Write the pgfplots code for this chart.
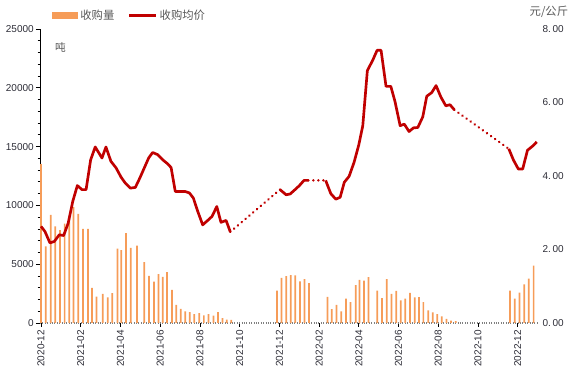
\documentclass[border=0pt]{standalone}
\usepackage{pgfplots}
\pgfplotsset{compat=1.18}
\usepackage{fontspec}
\setmainfont{Liberation Sans}
\newfontfamily\cjk{Noto Sans CJK SC}
\definecolor{barorange}{RGB}{246,156,88}
\definecolor{linered}{RGB}{192,0,0}
\definecolor{ticktext}{RGB}{45,45,55}
\definecolor{legtext}{RGB}{89,89,89}
\begin{document}
\begin{tikzpicture}
\begin{axis}[
  at={(0,0)}, anchor=south west,
  scale only axis, width=372.75pt, height=220.5pt,
  xmin=-0.05, xmax=24.97, ymin=0, ymax=25000,
  axis x line=bottom, axis y line=left,
  axis line style={-},
  x axis line style={gray, densely dotted, line width=0.8pt, -},
  y axis line style={black, line width=0.6pt, -},
  ybar, bar width=1.3pt,
  scaled y ticks=false, scaled x ticks=false,
  xtick={0,2,...,24},
  xticklabels={2020-12,2021-02,2021-04,2021-06,2021-08,2021-10,2021-12,2022-02,2022-04,2022-06,2022-08,2022-10,2022-12},
  ytick={0,5000,10000,15000,20000,25000},
  yticklabels={0,5000,10000,15000,20000,25000},
  minor y tick num=4,
  tick align=outside, major tick length=3pt, minor tick length=1.8pt,
  tick style={black, line width=0.6pt},
  /pgf/number format/assume math mode=true,
  xticklabel style={rotate=90, anchor=east, font=\fontsize{7.5}{8}\selectfont, text=ticktext, inner sep=2pt},
  yticklabel style={font=\fontsize{7.5}{8}\selectfont, text=ticktext, inner sep=1.5pt},
  clip=false,
]
\addplot[fill=barorange, draw=none] coordinates {
(0.00,13500) (0.24,6520) (0.49,9200) (0.72,8220) (0.96,7900) (1.19,8440) (1.42,8900) (1.64,9850) (1.88,9270) (2.12,8000) (2.37,8000) (2.57,2980) (2.80,2250) (3.11,2480) (3.36,2180) (3.59,2550) (3.85,6320) (4.04,6200) (4.28,7650) (4.52,6390) (4.83,6570) (5.20,5180) (5.44,4010) (5.69,3520) (5.92,4150) (6.13,3920) (6.34,4320) (6.59,2820) (6.81,1550) (7.03,1200) (7.26,990) (7.49,920) (7.72,760) (7.97,850) (8.20,650) (8.43,765) (8.68,620) (8.91,935) (9.14,425) (9.35,280) (9.58,260)
(11.88,2750) (12.11,3830) (12.35,3980) (12.57,4080) (12.80,4050) (13.04,3530) (13.26,3740) (13.49,3390)
(14.42,2220) (14.64,1190) (14.88,1540) (15.12,990) (15.35,2070) (15.58,1785) (15.84,3230) (16.03,3670) (16.26,3600) (16.49,3910) (16.93,2750) (17.17,2125) (17.41,3740) (17.64,2480) (17.88,2730) (18.11,1925) (18.34,2070) (18.58,2570) (18.81,2180) (19.03,2200) (19.25,1785) (19.49,1075) (19.72,905) (19.95,765) (20.18,570) (20.41,355) (20.64,200) (20.88,170)
(23.61,2750) (23.85,2080) (24.09,2580) (24.33,3290) (24.56,3770) (24.80,4875)
};
\node[font=\cjk\fontsize{8}{9}\selectfont, text=legtext] at (axis description cs:0.041,0.939) {吨};
\end{axis}
\begin{axis}[
  at={(0,0)}, anchor=south west,
  scale only axis, width=372.75pt, height=220.5pt,
  xmin=-0.05, xmax=24.97, ymin=0, ymax=8,
  axis y line=right, axis x line=none,
  y axis line style={draw=none},
  scaled y ticks=false,
  ytick={0,2,4,6,8},
  yticklabels={0.\,00,2.\,00,4.\,00,6.\,00,8.\,00},
  major tick length=0pt,
  /pgf/number format/assume math mode=true,
  yticklabel style={font=\fontsize{7.5}{8}\selectfont, text=ticktext, inner sep=1pt, xshift=3pt},
  unbounded coords=jump,
  clip=false,
  legend columns=2,
  legend style={draw=none, fill=none, at={(axis description cs:0.024,1.046)}, anchor=west,
     font=\cjk\fontsize{8.5}{9}\selectfont, text=legtext, inner sep=0pt,
     /tikz/every even column/.append style={column sep=8pt}},
]
\addlegendimage{legend image code/.code={\fill[barorange] (0pt,-2.4pt) rectangle (18.75pt,2.4pt);}}
\addlegendentry{收购量}
\addplot[linered, line width=2pt, line join=round,
  legend image code/.code={\draw[linered, line width=2pt] (0pt,0pt) -- (20pt,0pt);}] coordinates {
(0.00,2.63) (0.20,2.49) (0.45,2.18) (0.67,2.22) (0.92,2.40) (1.14,2.38) (1.37,2.72) (1.60,3.31) (1.83,3.74) (2.06,3.63) (2.27,3.63) (2.50,4.44) (2.73,4.79) (3.07,4.49) (3.27,4.79) (3.52,4.40) (3.78,4.22) (4.03,3.97) (4.24,3.81) (4.50,3.67) (4.75,3.69) (4.98,3.95) (5.20,4.22) (5.42,4.49) (5.62,4.64) (5.88,4.58) (6.13,4.44) (6.38,4.33) (6.55,4.23) (6.76,3.58) (7.00,3.58) (7.25,3.58) (7.47,3.54) (7.67,3.40) (7.89,3.04) (8.14,2.67) (8.39,2.79) (8.61,2.90) (8.85,3.17) (9.06,2.74) (9.32,2.79) (9.53,2.48)
(10.5,nan)
(12.03,3.63) (12.34,3.49) (12.54,3.51) (12.79,3.63) (13.01,3.74) (13.24,3.88) (13.46,3.88)
(13.9,nan)
(14.33,3.88) (14.59,3.52) (14.84,3.37) (15.06,3.42) (15.27,3.83) (15.51,3.99) (15.76,4.37) (16.00,4.85) (16.20,5.37) (16.43,6.87) (16.70,7.15) (16.92,7.42) (17.12,7.42) (17.37,6.44) (17.61,6.44) (17.82,6.03) (18.08,5.37) (18.29,5.41) (18.53,5.21) (18.75,5.31) (18.97,5.32) (19.22,5.61) (19.42,6.17) (19.67,6.27) (19.89,6.46) (20.13,6.15) (20.38,5.91) (20.59,5.94) (20.81,5.80)
(22.0,nan)
(23.55,4.74) (23.78,4.44) (24.03,4.19) (24.25,4.19) (24.49,4.70) (24.74,4.81) (24.96,4.93)
};
\addlegendentry{收购均价}
\addplot[linered, line width=2pt, line cap=round, dash pattern=on 0.01pt off 3.75pt, forget plot] coordinates {
(9.53,2.48) (12.03,3.63)
(11.0,nan)
(13.46,3.88) (14.33,3.88)
(15.0,nan)
(20.81,5.80) (23.55,4.74)
};
\node[font=\cjk\fontsize{8.5}{9}\selectfont, text=legtext] at (axis description cs:1.024,1.0595) {元/公斤};
\end{axis}
\pgfresetboundingbox
\path[use as bounding box] (-30pt,-47.25pt) rectangle (402pt,242.25pt);
\end{tikzpicture}
\end{document}
